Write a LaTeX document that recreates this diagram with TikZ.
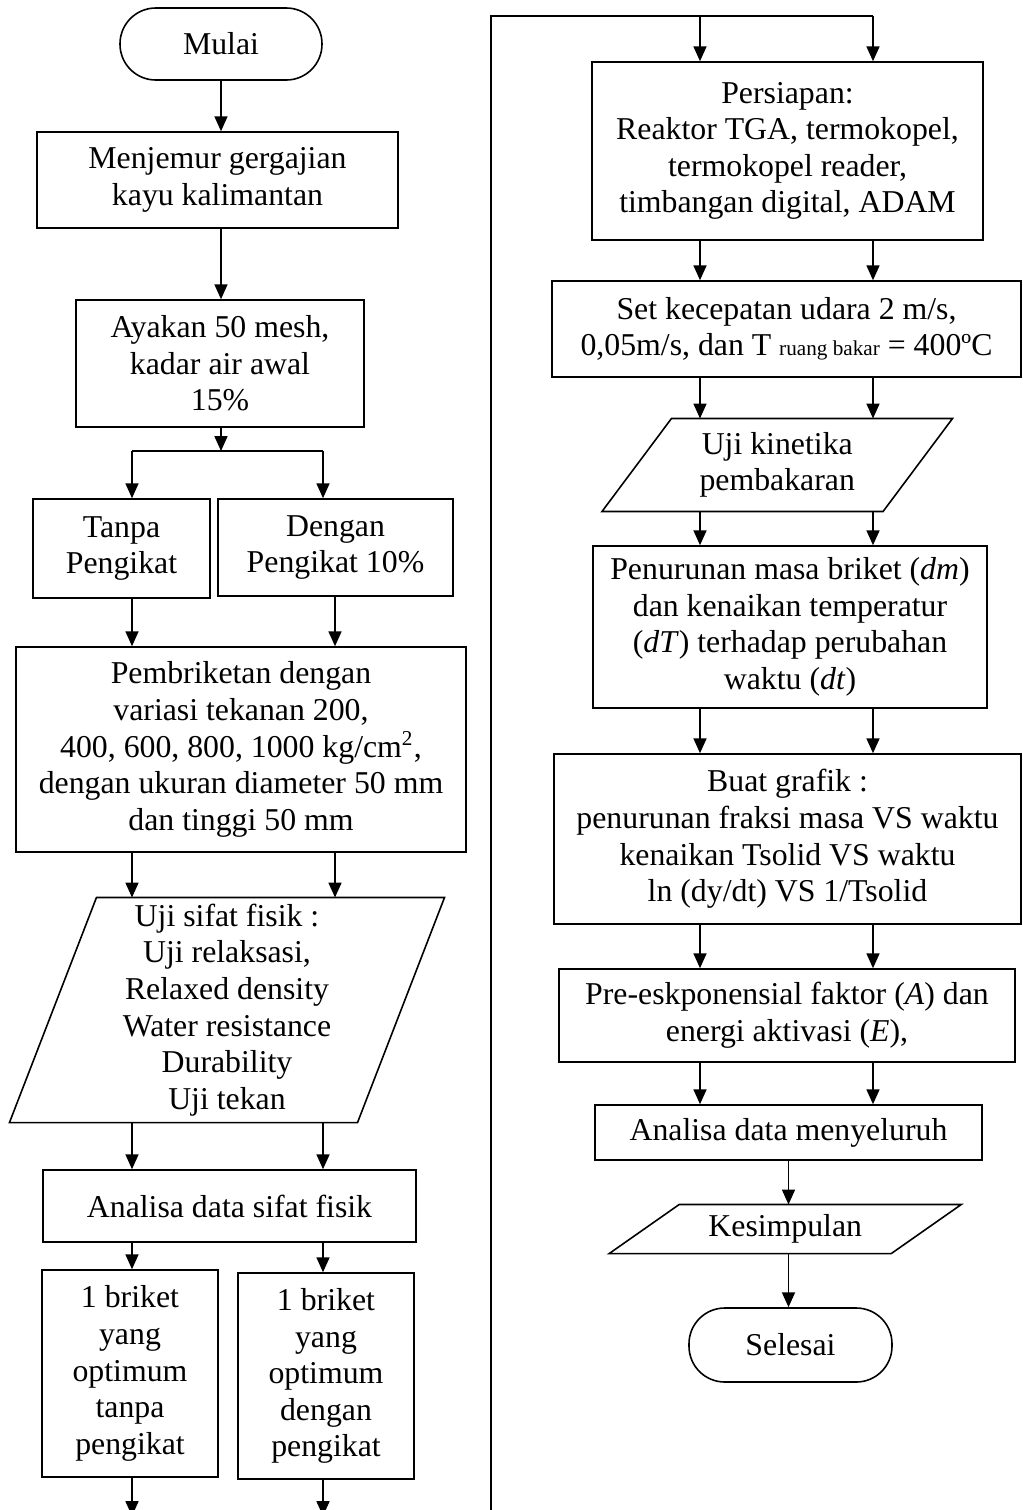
\documentclass[tikz,border=0pt]{standalone}
\usepackage{fontspec}
\setmainfont{Liberation Serif}
\usepackage{tikz}
\usetikzlibrary{arrows.meta, positioning, calc}
\newcommand{\pxu}{0.3774pt}

\tikzset{
  box/.style={draw, line width=0.6pt, align=center, inner sep=0pt, font=\fontsize{12}{13.8}\selectfont},
  term/.style={box, rounded corners=13.5pt},
  paratext/.style={align=center, inner sep=0pt, font=\fontsize{12}{13.8}\selectfont},
  wh/.style 2 args={minimum width=#1*\pxu, minimum height=#2*\pxu},
  arr/.style={-{Triangle[length=5.6pt, width=4.9pt]}, line width=0.6pt},
  wire/.style={line width=0.6pt},
}

\begin{document}
\begin{tikzpicture}[x=\pxu, y=-\pxu]
  \useasboundingbox (0,0) rectangle (1023,1510);

  % Left column
  \node[term, wh={202}{72}] (mulai) at (221,44) {Mulai};
  \node[box, wh={361}{96}] (jemur) at (217.5,180) {Menjemur gergajian\\kayu kalimantan};
  \node[box, wh={288}{127}] (ayak) at (220,363.5) {Ayakan 50 mesh,\\kadar air awal\\15\%};
  \node[box, wh={177}{99}] (tanpa) at (121.5,548.5) {Tanpa\\Pengikat};
  \node[box, wh={235}{97}] (dengan) at (335.5,547.5) {Dengan\\Pengikat 10\%};
  \node[box, wh={450}{205}] (briket) at (241,749.5) {Pembriketan dengan\\variasi tekanan 200,\\400, 600, 800, 1000 kg/cm\textsuperscript{2},\\dengan ukuran diameter 50 mm\\dan tinggi 50 mm};
  \node[paratext, wh={347}{224}] (fisik) at (227,1010) {Uji sifat fisik :\\Uji relaksasi,\\Relaxed density\\Water resistance\\Durability\\Uji tekan};
  \draw[wire] ([shift={(43.5,0)}]fisik.north west) -- ([shift={(43.5,0)}]fisik.north east) -- ([shift={(-43.5,0)}]fisik.south east) -- ([shift={(-43.5,0)}]fisik.south west) -- cycle;
  \node[box, wh={373}{72}] (anfisik) at (229.5,1206) {Analisa data sifat fisik};
  \node[box, wh={176}{207}] (opttanpa) at (130,1373.5) {1 briket\\yang\\optimum\\tanpa\\pengikat};
  \node[box, wh={176}{206}] (optdengan) at (326,1376) {1 briket\\yang\\optimum\\dengan\\pengikat};

  % Right column
  \node[box, wh={391}{178}] (siap) at (787.5,151) {Persiapan:\\Reaktor TGA, termokopel,\\termokopel reader,\\timbangan digital, ADAM};
  \node[box, wh={469}{96}] (udara) at (786.5,329) {Set kecepatan udara 2 m/s,\\0,05m/s, dan T {\fontsize{8}{9.6}\selectfont ruang bakar} = 400ºC};
  \node[paratext, wh={280}{92}] (kinetika) at (777.25,465) {Uji kinetika\\pembakaran};
  \draw[wire] ([shift={(34.75,0)}]kinetika.north west) -- ([shift={(34.75,0)}]kinetika.north east) -- ([shift={(-34.75,0)}]kinetika.south east) -- ([shift={(-34.75,0)}]kinetika.south west) -- cycle;
  \node[box, wh={394}{162}] (turun) at (790,627) {Penurunan masa briket (\textit{dm})\\dan kenaikan temperatur\\(\textit{dT}) terhadap perubahan\\waktu (\textit{dt})};
  \node[box, wh={467}{170}] (grafik) at (787.5,839) {Buat grafik :\\penurunan fraksi masa VS waktu\\kenaikan Tsolid VS waktu\\ln (dy/dt) VS 1/Tsolid};
  \node[box, wh={456}{93}] (faktor) at (787,1015.5) {Pre-eskponensial faktor (\textit{A}) dan\\energi aktivasi (\textit{E}),};
  \node[box, wh={387}{55}] (anall) at (788.5,1132.5) {Analisa data menyeluruh};
  \node[paratext, wh={281}{48}] (simpul) at (785.25,1229) {Kesimpulan};
  \draw[wire] ([shift={(35,0)}]simpul.north west) -- ([shift={(35,0)}]simpul.north east) -- ([shift={(-35,0)}]simpul.south east) -- ([shift={(-35,0)}]simpul.south west) -- cycle;
  \node[term, wh={203}{74}] (selesai) at (790.5,1345) {Selesai};

  % Arrow columns
  \coordinate (cl) at (132,0);
  \coordinate (cm) at (323,0);
  \coordinate (cn) at (335,0);
  \coordinate (rl) at (700,0);
  \coordinate (rr) at (873,0);
  \coordinate (split) at (221,451);
  \coordinate (bottom) at (0,1516);
  \coordinate (ltop) at (491,16);

  % Left connectors
  \draw[arr] (mulai.south) -- (mulai.south |- jemur.north);
  \draw[arr] (jemur.south -| mulai) -- (mulai |- ayak.north);
  \draw[arr] (ayak.south -| mulai) -- (split);
  \draw[wire] (split -| cl) -- (split -| cm);
  \draw[arr] (split -| cl) -- (cl |- tanpa.north);
  \draw[arr] (split -| cm) -- (cm |- dengan.north);
  \draw[arr] (tanpa.south -| cl) -- (cl |- briket.north);
  \draw[arr] (dengan.south -| cn) -- (cn |- briket.north);
  \draw[arr] (briket.south -| cl) -- (cl |- fisik.north);
  \draw[arr] (briket.south -| cn) -- (cn |- fisik.north);
  \draw[arr] (fisik.south -| cl) -- (cl |- anfisik.north);
  \draw[arr] (fisik.south -| cm) -- (cm |- anfisik.north);
  \draw[arr] (anfisik.south -| cl) -- (cl |- opttanpa.north);
  \draw[arr] (anfisik.south -| cm) -- (cm |- optdengan.north);
  \draw[arr] (opttanpa.south -| cl) -- (cl |- bottom);
  \draw[arr] (optdengan.south -| cm) -- (cm |- bottom);

  % Divider and right connectors
  \draw[wire] (ltop |- bottom) -- (ltop) -- (ltop -| rr);
  \draw[arr] (ltop -| rl) -- (rl |- siap.north);
  \draw[arr] (ltop -| rr) -- (rr |- siap.north);
  \draw[arr] (siap.south -| rl) -- (rl |- udara.north);
  \draw[arr] (siap.south -| rr) -- (rr |- udara.north);
  \draw[arr] (udara.south -| rl) -- (rl |- kinetika.north);
  \draw[arr] (udara.south -| rr) -- (rr |- kinetika.north);
  \draw[arr] (kinetika.south -| rl) -- (rl |- turun.north);
  \draw[arr] (kinetika.south -| rr) -- (rr |- turun.north);
  \draw[arr] (turun.south -| rl) -- (rl |- grafik.north);
  \draw[arr] (turun.south -| rr) -- (rr |- grafik.north);
  \draw[arr] (grafik.south -| rl) -- (rl |- faktor.north);
  \draw[arr] (grafik.south -| rr) -- (rr |- faktor.north);
  \draw[arr] (faktor.south -| rl) -- (rl |- anall.north);
  \draw[arr] (faktor.south -| rr) -- (rr |- anall.north);
  \draw[arr] (anall.south) -- (anall.south |- simpul.north);
  \draw[arr] (simpul.south -| anall) -- (anall |- selesai.north);
\end{tikzpicture}
\end{document}
